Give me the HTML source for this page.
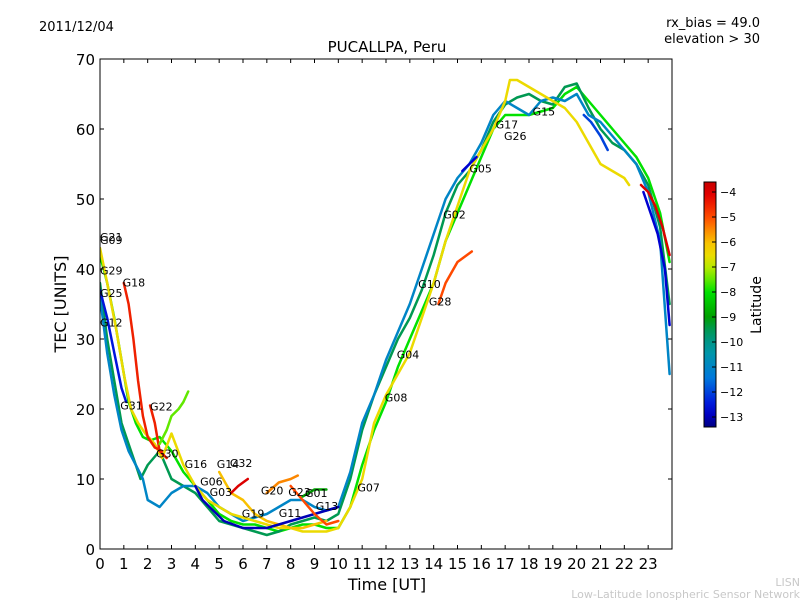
<!DOCTYPE html>
<html><head><meta charset="utf-8"><style>
body{margin:0;background:#fff;}
svg text{font-family:"DejaVu Sans","Liberation Sans",sans-serif;}
</style></head><body>
<svg id="chart" width="800" height="600" xmlns="http://www.w3.org/2000/svg">
<rect width="800" height="600" fill="#fff"/>
<text x="39" y="31" font-size="13">2011/12/04</text>
<text x="387" y="52" font-size="15" text-anchor="middle">PUCALLPA, Peru</text>
<text x="760" y="27" font-size="13" text-anchor="end">rx_bias = 49.0</text>
<text x="760" y="43" font-size="13" text-anchor="end">elevation &gt; 30</text>
<text transform="translate(66,304) rotate(-90)" font-size="16" text-anchor="middle">TEC [UNITS]</text>
<text x="387" y="590" font-size="16" text-anchor="middle">Time [UT]</text>
<text x="800" y="586" font-size="11" fill="#c8c8c8" text-anchor="end">LISN</text>
<text x="800" y="598" font-size="11" fill="#c8c8c8" text-anchor="end">Low-Latitude Ionospheric Sensor Network</text>
<g id="plot"></g>
<g id="cbar"></g>
</svg>
<script>
const xTicks=[0,1,2,3,4,5,6,7,8,9,10,11,12,13,14,15,16,17,18,19,20,21,22,23];
const yTicks=[0,10,20,30,40,50,60,70];
const cbTicks=[-4,-5,-6,-7,-8,-9,-10,-11,-12,-13];
const traceLat=[-8,-9.5,-11,-12.5,-6.5,-4.5,-4.5,-7.5,-6,-4,-13,-5.5,-5,-4,-12.8,-5,-12.8,-12,-9];
const traceTime=[
[0,0.3,0.6,0.9,1.2,1.5,1.8,2.1,2.5,3,3.5,4,4.5,5,5.5,6,6.5,7,7.5,8,8.5,9,9.5,10,10.5,11,11.5,12,12.5,13,13.5,14,14.5,15,15.5,16,16.5,17,17.5,18,18.5,19,19.5,20,20.5,21,21.5,22,22.5,23,23.5,23.9],
[0,0.3,0.6,0.9,1.2,1.5,1.7,2,2.5,3,3.5,4,4.5,5,5.5,6,6.5,7,7.5,8,8.5,9,9.5,10,10.5,11,11.5,12,12.5,13,13.5,14,14.5,15,15.5,16,16.5,17,17.5,18,18.5,19,19.5,20,20.5,21,21.5,22,22.5,23,23.5,23.9],
[0,0.3,0.6,0.9,1.2,1.5,1.8,2,2.5,3,3.5,4,4.5,5,5.5,6,6.5,7,7.5,8,8.5,9,9.5,10,10.5,11,11.5,12,12.5,13,13.5,14,14.5,15,15.5,16,16.5,17,17.5,18,18.5,19,19.5,20,20.5,21,21.5,22,22.5,23,23.5,23.9],
[0,0.3,0.6,0.9,1.1],
[0,0.3,0.7,1,1.3,1.6,1.9,2.3,2.6,3,3.5,4,4.5,5,5.5,6,6.5,7,7.5,8,8.5,9,9.5,10,10.5,11,11.5,12,12.5,13,13.5,14,14.5,15,15.5,16,16.5,17,17.2,17.5,18,18.5,19,19.5,20,20.5,21,21.5,22,22.2],
[1,1.2,1.4,1.6,1.8,2,2.3,2.6],
[2.1,2.3,2.5,2.8],
[2.5,2.8,3,3.3,3.5,3.7],
[5,5.5,6,6.5,7,7.5,8,8.5,9,9.5],
[5.5,5.8,6,6.2],
[4,4.3,4.6,4.9,5.2,5.6,6,6.5,7,7.5,8,8.5,9,9.5,10],
[7,7.5,8,8.3],
[8,8.5,9,9.5,10],
[22.7,23,23.3,23.6,23.9],
[22.8,23.1,23.4,23.7,23.9],
[14.2,14.5,15,15.6],
[15.2,15.5,15.8],
[20.3,20.6,21,21.3],
[8.5,9,9.5]
];
const traceTec=[
[42,38,33,27,21,18,16,15.5,16,14,11,9,7,5,4,3.5,3.5,3,2.5,3,3.5,3.5,3,3,6,12,17,21,26,30,34,38,44,48,52,56,60,62,62,62,62.5,63,65,66,64,62,60,58,56,53,48,41],
[38,30,24,18,15,12,10,12,14,10,9,8,6,4,3.5,3,2.5,2,2.5,3.5,4,4.5,4,5,10,17,22,26,30,33,37,42,48,52,54,57,61,63.5,64.5,65,64,63.5,66,66.5,63,60,58,57,55,52,46,35],
[36,28,22,17,14,12,10,7,6,8,9,9,8,6,5,4,4.5,5,6,7,7,6,5.5,6,11,18,22,27,31,35,40,45,50,53,55,58,62,64,63,62,64,64.5,64,65,62,61,59,57,55,51,44,25],
[37,33,28,23,21],
[43,38,31,25,20,18,16.5,15,13,16.5,12,9,7,6,5,4.5,4,3.5,3,3,2.5,2.5,2.5,3,6,10,18,22,25,28,33,38,44,49,54,57,60,64,67,67,66,65,64,63,61,58,55,54,53,52],
[38,35,30,24,19,16,14.5,14],
[20.5,18,14,13],
[15,17,19,20,21,22.5],
[11,8,7,5,4,3.5,3,3,3.5,4],
[8,9,9.5,10],
[9,7,6,5,4,3.5,3,3,3,3.5,4,4.5,5,5.5,6],
[8,9.5,10,10.5],
[9,7,5,3.5,4],
[52,51,49,46,42],
[51,48,45,40,32],
[35,38,41,42.5],
[54,55,56],
[62,61,59,57],
[7.5,8.5,8.5]
];
const labelText=["G21","G09","G29","G18","G25","G12","G31","G22","G30","G16","G14","G32","G06","G03","G20","G23","G01","G19","G11","G13","G07","G08","G04","G28","G10","G02","G05","G17","G26","G15"];
const labelTime=[0,0,0,0.95,0,0,0.85,2.1,2.35,3.55,4.9,5.45,4.2,4.6,6.75,7.9,8.6,5.95,7.5,9.05,10.8,11.95,12.45,13.8,13.35,14.4,15.5,16.6,16.95,18.15];
const labelTec=[44,43.6,39.2,37.5,36,31.8,19.9,19.8,13.1,11.6,11.6,11.7,9.1,7.6,7.8,7.6,7.4,4.5,4.6,5.6,8.2,21.1,27.2,34.8,37.3,47.2,53.8,60.1,58.4,61.9];

const NS="http://www.w3.org/2000/svg";
const X0=100,X1=672,Y0=549,Y1=59;
const xs=t=>X0+t*(X1-X0)/24;
const ys=v=>Y0-v*(Y0-Y1)/70;
const CB0=427,CB1=182,LMIN=-13.4,LMAX=-3.6;
const cs=l=>CB0-(l-LMIN)*(CB0-CB1)/(LMAX-LMIN);
const CM=[[0,[0,0,130]],[0.07,[0,0,220]],[0.2,[0,120,220]],[0.3,[0,150,170]],[0.38,[0,150,110]],[0.45,[0,160,0]],[0.55,[0,225,0]],[0.62,[130,235,0]],[0.68,[230,230,0]],[0.76,[250,190,0]],[0.86,[255,70,0]],[0.95,[225,0,0]],[1,[200,0,0]]];
function jet(f){f=Math.max(0,Math.min(1,f));
 for(let i=1;i<CM.length;i++){if(f<=CM[i][0]){const a=CM[i-1],b=CM[i],u=(f-a[0])/(b[0]-a[0]);
  const c=a[1].map((v,k)=>Math.round(v+(b[1][k]-v)*u));return `rgb(${c[0]},${c[1]},${c[2]})`;}}
 return 'rgb(200,0,0)';}
const lc=l=>jet((l-LMIN)/(LMAX-LMIN));
function mk(tag,at,parent){const e=document.createElementNS(NS,tag);for(const k in at)e.setAttribute(k,at[k]);parent.appendChild(e);return e;}
const plot=document.getElementById('plot');
const cbar=document.getElementById('cbar');
const clip=mk('clipPath',{id:'pc'},plot);mk('rect',{x:X0,y:Y1,width:X1-X0,height:Y0-Y1},clip);
const lines=mk('g',{'clip-path':'url(#pc)'},plot);
traceTime.forEach((ts,i)=>{
 const d=ts.map((t,j)=>(j?'L':'M')+xs(t).toFixed(1)+','+ys(traceTec[i][j]).toFixed(1)).join('');
 const p=mk('path',{d:d,fill:'none',stroke:lc(traceLat[i]),'stroke-width':2.5,'stroke-linejoin':'round','stroke-linecap':'round'},lines);
 
 
});
labelText.forEach((s,i)=>{
 const t=mk('text',{x:xs(labelTime[i]),y:ys(labelTec[i]),'font-size':11},plot);t.textContent=s;
 
 
});
const frame=mk('rect',{x:X0,y:Y1,width:X1-X0,height:Y0-Y1,fill:'none',stroke:'#000','stroke-width':1},plot);


xTicks.forEach(t=>{const x=xs(t);
 mk('line',{x1:x,x2:x,y1:Y0,y2:Y0-4,stroke:'#000'},plot);mk('line',{x1:x,x2:x,y1:Y1,y2:Y1+4,stroke:'#000'},plot);
 const tx=mk('text',{x:x,y:Y0+20,'font-size':15,'text-anchor':'middle'},plot);tx.textContent=t;
 
 
});
yTicks.forEach(v=>{const y=ys(v);
 mk('line',{x1:X0,x2:X0+4,y1:y,y2:y,stroke:'#000'},plot);mk('line',{x1:X1,x2:X1-4,y1:y,y2:y,stroke:'#000'},plot);
 const tx=mk('text',{x:X0-5,y:y+6,'font-size':15,'text-anchor':'end'},plot);tx.textContent=v;
 
 
});
const defs=mk('defs',{},cbar);const g=mk('linearGradient',{id:'cg',x1:0,y1:1,x2:0,y2:0},defs);
for(let i=0;i<=20;i++)mk('stop',{offset:i/20,'stop-color':jet(i/20)},g);
const cr=mk('rect',{x:704,y:CB1,width:12,height:CB0-CB1,fill:'url(#cg)',stroke:'#000','stroke-width':1},cbar);


cbTicks.forEach(l=>{const y=cs(l);
 mk('line',{x1:712,x2:716,y1:y,y2:y,stroke:'#000'},cbar);
 const tx=mk('text',{x:720,y:y+4,'font-size':11},cbar);tx.textContent='\u2212'+Math.abs(l);
 
 
});
const ct=mk('text',{transform:'translate(761,305) rotate(-90)','font-size':14,'text-anchor':'middle'},cbar);ct.textContent='Latitude';


</script>
</body></html>
